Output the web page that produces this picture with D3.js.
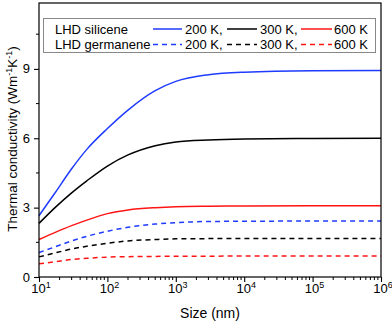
<!DOCTYPE html>
<html>
<head>
<meta charset="utf-8">
<script src="https://cdn.jsdelivr.net/npm/d3@7"></script>
<style>
body { margin:0; background:#fff; }
text { font-family: "Liberation Sans", Arial, sans-serif; }
</style>
</head>
<body>
<script>
var canvaswidth=392;
var canvasheight=324;

// data
var sizes=[10, 17, 30, 50, 100, 200, 500, 1000, 3000, 1e4, 1e5, 1e6];
var silicene200=[2.65, 3.62, 4.68, 5.52, 6.42, 7.22, 8.06, 8.46, 8.75, 8.86, 8.92, 8.93];
var silicene300=[2.32, 2.99, 3.64, 4.16, 4.80, 5.28, 5.68, 5.84, 5.93, 5.97, 5.99, 6.00];
var silicene600=[1.62, 1.92, 2.22, 2.46, 2.74, 2.90, 3.00, 3.04, 3.06, 3.07, 3.08, 3.08];
var germanene200=[1.06, 1.30, 1.56, 1.76, 1.98, 2.15, 2.29, 2.35, 2.40, 2.41, 2.42, 2.42];
var germanene300=[0.87, 1.04, 1.21, 1.33, 1.46, 1.56, 1.62, 1.65, 1.66, 1.67, 1.67, 1.67];
var germanene600=[0.57, 0.66, 0.76, 0.81, 0.86, 0.88, 0.89, 0.90, 0.90, 0.91, 0.91, 0.91];
var temps=["200 K,", "300 K,", "600 K"];
var materials=["LHD silicene", "LHD germanene"];
var yticks=[0, 3, 6, 9];
var xticks=[1e1, 1e2, 1e3, 1e4, 1e5, 1e6];

var blue="#1f3bff", black="#000000", red="#ff1414";
var series=[
	{v:silicene200, c:blue, dash:null},
	{v:silicene300, c:black, dash:null},
	{v:silicene600, c:red, dash:null},
	{v:germanene200, c:blue, dash:"5,4"},
	{v:germanene300, c:black, dash:"5,4"},
	{v:germanene600, c:red, dash:"5,4"}
];

var pleft=39, pright=381, ptop=3, pbottom=277;

var svg=d3.select("body").append("svg").attr("width",canvaswidth).attr("height",canvasheight);

var x=d3.scaleLog().domain([10,1e6]).range([pleft,pright]);
var y=d3.scaleLinear().domain([0,11.85]).range([pbottom,ptop]);

// minor ticks
var xminor=[];
for (var d=1; d<6; d++) for (var k=2; k<10; k++) xminor.push(k*Math.pow(10,d));
var yminor=[1.5, 4.5, 7.5, 10.5];

svg.append("g").selectAll("line").data(xminor).enter().append("line")
	.attr("x1",function(d){return x(d);}).attr("x2",function(d){return x(d);})
	.attr("y1",pbottom).attr("y2",pbottom+3).attr("stroke","black").attr("stroke-width",1);
svg.append("g").selectAll("line").data(yminor).enter().append("line")
	.attr("y1",function(d){return y(d);}).attr("y2",function(d){return y(d);})
	.attr("x1",pleft).attr("x2",pleft-3).attr("stroke","black").attr("stroke-width",1);

var xaxis=svg.append("g").attr("transform","translate(0,"+pbottom+")")
	.call(d3.axisBottom(x).tickValues(xticks).tickSize(5).tickFormat(""));
var yaxis=svg.append("g").attr("transform","translate("+pleft+",0)")
	.call(d3.axisLeft(y).tickValues(yticks).tickSize(5).tickFormat(""));
xaxis.select(".domain").remove();
yaxis.select(".domain").remove();
svg.selectAll(".tick line").attr("stroke-width",1.1);

// tick labels with superscripts
var xl=svg.append("g").selectAll("text").data(xticks).enter().append("text")
	.attr("x",function(d){return x(d)+2;}).attr("y",pbottom+16)
	.attr("text-anchor","middle").attr("font-size",13);
xl.append("tspan").text("10");
xl.append("tspan").attr("dy",-5).attr("font-size",9).text(function(d){return Math.round(Math.log10(d));});

svg.append("g").selectAll("text").data(yticks).enter().append("text")
	.attr("x",30).attr("y",function(d){return y(d)+4.5;})
	.attr("text-anchor","end").attr("font-size",13).text(function(d){return d;});

// curves
var line=d3.line().x(function(d){return x(d[0]);}).y(function(d){return y(d[1]);}).curve(d3.curveMonotoneX);
series.forEach(function(s){
	svg.append("path").datum(sizes.map(function(v,i){return [v,s.v[i]];}))
		.attr("d",line).attr("fill","none").attr("stroke",s.c).attr("stroke-width",1.5)
		.attr("stroke-dasharray",s.dash);
});

// frame
svg.append("rect").attr("x",pleft).attr("y",ptop).attr("width",pright-pleft).attr("height",pbottom-ptop)
	.attr("fill","none").attr("stroke","black").attr("stroke-width",1.2);

// legend
svg.append("rect").attr("x",43.5).attr("y",18.5).attr("width",332).attr("height",34)
	.attr("fill","white").attr("stroke","#888").attr("stroke-width",1);
var sx=[[153,182],[227,257],[301,332]];
var tx=[185,260,334];
var rows=[29,44.5];
materials.forEach(function(m,r){
	svg.append("text").attr("x",55).attr("y",rows[r]+4.5).attr("font-size",13).text(m);
	for (var j=0;j<3;j++) {
		var s=series[r*3+j];
		svg.append("line").attr("x1",sx[j][0]).attr("x2",sx[j][1]).attr("y1",rows[r]).attr("y2",rows[r])
			.attr("stroke",s.c).attr("stroke-width",1.5).attr("stroke-dasharray",s.dash);
		svg.append("text").attr("x",tx[j]).attr("y",rows[r]+4.5).attr("font-size",13).text(temps[j]);
	}
});

// axis titles
var yt=svg.append("text").attr("transform","translate(17,139) rotate(-90)")
	.attr("text-anchor","middle").attr("font-size",13.5);
yt.append("tspan").text("Thermal conductivity (Wm");
yt.append("tspan").attr("dy",-5).attr("font-size",9).text("-1");
yt.append("tspan").attr("dy",5).text("K");
yt.append("tspan").attr("dy",-5).attr("font-size",9).text("-1");
yt.append("tspan").attr("dy",5).text(")");

svg.append("text").attr("x",210).attr("y",318).attr("text-anchor","middle").attr("font-size",14).text("Size (nm)");
</script>
</body>
</html>
